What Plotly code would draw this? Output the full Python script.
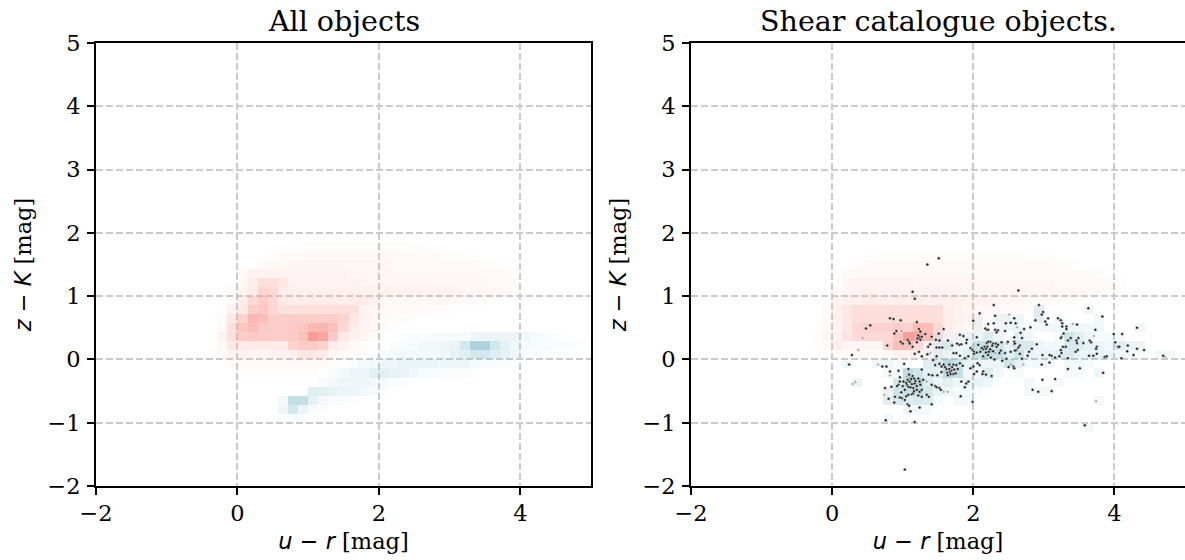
import numpy as np
import plotly.graph_objects as go

# u-r / z-K colour-colour density, 49 x 49 bins of 1/7 mag
N_BINS = 49
BIN = 1 / 7

x_ticks = [-2, 0, 2, 4]
y_ticks = [-2, -1, 0, 1, 2, 3, 4, 5]

# row -> (first column, cell values)
red_all = {
    26: (19, [1, 2, 2, 2, 2, 2, 2, 2, 2, 2, 2, 2, 1, 1]),
    25: (17, [2, 3, 3, 4, 4, 4, 4, 4, 4, 4, 4, 4, 4, 4, 3, 3, 3, 2, 2, 2, 1]),
    24: (16, [3, 5, 5, 6, 6, 6, 6, 6, 6, 6, 6, 6, 6, 5, 5, 5, 5, 5, 4, 4, 4, 3, 2, 2, 1]),
    23: (14, [4, 8, 8, 9, 9, 8, 8, 8, 8, 8, 8, 7, 7, 7, 7, 6, 6, 6, 6, 6, 5, 5, 5, 5, 4, 4, 3, 2]),
    22: (14, [5, 12, 22, 22, 16, 8, 8, 8, 8, 8, 8, 8, 7, 7, 7, 7, 7, 7, 7, 6, 6, 6, 6, 6, 6, 5, 5, 4]),
    21: (13, [3, 8, 12, 28, 25, 12, 10, 10, 10, 10, 10, 10, 10, 9, 9, 9, 8, 8, 8, 8, 8, 8, 8, 7, 7, 6, 6, 5, 4, 2]),
    20: (13, [5, 12, 25, 35, 25, 14, 13, 13, 13, 13, 12, 12, 12, 14, 10, 7, 5, 5, 5, 5, 6, 6, 5, 4, 3, 2]),
    19: (12, [2, 8, 15, 35, 40, 28, 20, 20, 22, 22, 22, 22, 22, 20, 8, 6, 5, 4, 4, 3, 3, 2, 2, 1]),
    18: (12, [4, 15, 30, 65, 55, 33, 33, 33, 33, 35, 35, 35, 30, 15, 8, 6, 4, 2, 2, 1]),
    17: (12, [5, 20, 45, 55, 38, 35, 35, 38, 42, 60, 65, 50, 25, 12, 8, 6, 3, 1]),
    16: (12, [8, 22, 35, 38, 33, 33, 33, 38, 50, 100, 85, 38, 14, 10, 6, 3, 1]),
    15: (12, [5, 15, 14, 14, 14, 14, 14, 30, 35, 35, 30, 13, 8, 5, 2]),
    14: (12, [3, 8, 8, 7, 7, 8, 8, 10, 16, 16, 14, 6, 3, 2]),
    13: (13, [4, 4, 3, 3, 4, 4, 5, 5, 5, 4, 2]),
    12: (14, [2, 2, 2, 2, 2, 2, 2, 2]),
}

blue_all = {
    16: (30, [2, 3, 3, 4, 4, 5, 5, 9, 10, 10, 10, 10, 8, 5, 3, 2]),
    15: (29, [3, 4, 5, 7, 7, 8, 10, 22, 50, 50, 22, 13, 7, 5, 4, 4, 3, 3, 2, 1]),
    14: (27, [3, 4, 5, 6, 6, 6, 6, 8, 12, 15, 22, 22, 17, 13, 8, 4, 3, 2, 2, 1, 1]),
    13: (25, [3, 5, 6, 8, 9, 10, 10, 10, 10, 9, 8, 8, 5, 3, 3, 2, 2]),
    12: (23, [4, 6, 8, 9, 14, 14, 12, 10, 6, 4, 3, 2, 2, 2, 1]),
    11: (22, [4, 6, 8, 8, 8, 7, 5, 3, 2]),
    10: (21, [15, 15, 12, 10, 10, 6, 4, 2]),
    9: (18, [6, 30, 30, 13, 6, 4, 3, 2]),
    8: (18, [8, 22, 10, 4, 2]),
    7: (18, [2, 3, 2]),
}

red_shear = {
    25: (17, [1, 2, 2, 2, 2, 2, 2, 2, 2, 2, 2, 2, 2, 2, 2, 2, 1, 1, 1]),
    24: (16, [2, 4, 4, 4, 4, 4, 4, 4, 4, 4, 4, 3, 3, 3, 3, 3, 3, 3, 3, 3, 2, 2, 1]),
    23: (15, [3, 5, 5, 5, 5, 5, 5, 5, 5, 5, 5, 5, 5, 4, 4, 4, 4, 4, 4, 4, 4, 3, 3, 3, 3, 2, 1]),
    22: (15, [6, 8, 8, 8, 8, 8, 8, 7, 7, 7, 7, 7, 7, 7, 6, 6, 6, 6, 6, 6, 6, 5, 5, 5, 5, 4, 3, 2]),
    21: (14, [4, 6, 8, 10, 8, 8, 8, 8, 8, 8, 8, 8, 8, 7, 7, 7, 7, 7, 7, 7, 7, 6, 6, 6, 6, 5, 5, 3]),
    20: (14, [8, 10, 10, 13, 13, 10, 12, 10, 12, 10, 10, 10, 9, 8, 8, 8, 7, 7, 6, 5, 4, 4, 3, 3, 2, 2]),
    19: (13, [4, 10, 15, 22, 22, 22, 22, 22, 22, 22, 22, 22, 12, 9, 7, 6, 5, 4, 3, 3, 2, 2, 1]),
    18: (13, [4, 10, 15, 22, 22, 22, 22, 22, 22, 22, 22, 22, 12, 10, 8, 5, 4, 2, 1]),
    17: (13, [4, 8, 15, 25, 30, 30, 30, 35, 30, 60, 55, 25, 12, 7, 5, 3, 1]),
    16: (12, [2, 6, 8, 18, 25, 25, 25, 25, 45, 95, 90, 60, 18, 8, 4, 2]),
    15: (12, [2, 4, 12, 7, 7, 7, 7, 28, 55, 55, 25, 10, 4, 2]),
    14: (14, [3, 3, 3, 3, 3, 5, 8, 8, 8, 6, 5, 2]),
}

blue_shear = {
    19: (34, [15, 0, 0, 0, 0, 8]),
    18: (28, [8, 0, 10, 8, 8, 0, 15, 0, 7, 0, 0, 0, 7]),
    17: (28, [8, 0, 8, 8, 8, 4, 6, 8, 8, 10, 8, 6, 7, 0, 0, 0, 8]),
    16: (24, [12, 5, 10, 10, 10, 18, 8, 0, 15, 7, 0, 0, 5, 25, 15, 8, 4, 5, 5]),
    15: (24, [15, 20, 8, 10, 30, 30, 25, 12, 20, 20, 10, 6, 6, 20, 18, 12, 10, 6, 15, 10, 10]),
    14: (23, [5, 12, 10, 8, 15, 25, 40, 30, 15, 25, 10, 8, 10, 15, 18, 10, 10, 12, 10, 6, 6, 4, 0, 6, 6]),
    13: (15, [8, 0, 0, 8, 8, 4, 0, 0, 15, 20, 40, 25, 12, 10, 8, 10, 25, 12, 6, 6, 8, 0, 7, 7, 5]),
    12: (19, [6, 6, 35, 25, 14, 14, 40, 30, 6, 6, 18, 6, 0, 5, 0, 0, 0, 0, 6, 6, 0, 8]),
    11: (16, [10, 0, 0, 0, 20, 35, 45, 18, 10, 15, 8, 12, 12, 8, 0, 0, 0, 6, 0, 0, 6]),
    10: (19, [10, 25, 28, 30, 22, 12, 8, 4, 6, 4, 0, 0, 0, 0, 6, 6, 6]),
    9: (19, [15, 22, 15, 20, 18, 5, 0, 6, 6, 0, 0, 0, 0, 0, 0, 0, 0, 0, 0, 0, 0, 6]),
    8: (21, [10, 6, 5]),
    7: (19, [7]),
    6: (39, [6]),
}

# shear catalogue objects, dark markers
shear_u_r = [
    1.51, 1.35, 1.14, 1.17, 2.29, 2.09, 2.00, 2.31, 0.82, 0.87, 0.97, 1.20, 0.54, 0.48, 2.21, 2.29, 1.58, 0.91, 0.88,
    1.23, 1.25, 1.24, 1.21, 1.25, 1.32, 1.41, 1.51, 1.47, 1.52, 1.07, 1.09, 0.97, 1.00, 0.78, 1.14, 1.39, 1.36, 1.64,
    1.23, 1.17, 1.02, 0.28, 0.24, 0.71, 0.77, 0.82, 0.94, 0.75, 0.84, 0.80, 0.88, 0.76, 1.17, 1.99, 1.82, 1.11, 1.24,
    1.41, 1.07, 1.09, 1.03, 1.05, 1.08, 1.13, 0.99, 0.96, 0.89, 1.20, 1.24, 1.27, 1.34, 1.37, 1.27, 1.22, 1.15, 0.96,
    1.08, 1.09, 1.14, 1.16, 1.22, 1.27, 1.01, 1.07, 1.10, 1.13, 1.17, 1.24, 0.96, 0.94, 0.92, 1.06, 1.08, 1.15, 1.25,
    1.29, 1.37, 1.42, 1.49, 1.41, 1.46, 1.48, 1.52, 1.54, 1.48, 1.43, 1.46, 1.52, 1.55, 1.58, 1.66, 1.72, 1.76, 1.81,
    1.62, 1.66, 1.69, 1.73, 1.63, 1.67, 1.68, 1.72, 1.83, 1.90, 1.93, 1.88, 1.96, 2.00, 1.48, 1.52, 1.56, 1.35, 1.27,
    1.72, 1.76, 1.81, 1.88, 1.93, 1.80, 1.83, 1.90, 1.70, 1.77, 1.81, 1.86, 1.91, 1.96, 1.99, 2.01, 2.05, 2.01, 2.07,
    2.14, 2.16, 2.19, 2.24, 2.21, 2.18, 2.21, 2.14, 2.09, 2.06, 2.14, 2.13, 2.18, 2.26, 2.05, 2.01, 2.19, 2.21, 2.31,
    2.17, 2.05, 2.24, 2.33, 2.64, 2.93, 3.63, 3.83, 2.58, 2.99, 2.97, 2.88, 3.06, 3.20, 3.24, 3.26, 3.26, 3.32, 3.32,
    3.47, 3.02, 3.04, 2.46, 2.53, 2.60, 2.72, 2.81, 2.35, 2.33, 2.45, 2.67, 2.58, 2.69, 3.28, 3.25, 3.24, 3.38, 3.49,
    3.46, 3.34, 3.47, 3.56, 3.65, 3.67, 3.73, 3.99, 4.11, 4.01, 4.05, 4.07, 4.19, 4.32, 4.32, 4.42, 4.18, 4.27, 3.75,
    3.74, 3.75, 3.64, 3.70, 3.86, 3.89, 4.10, 4.69, 3.48, 3.45, 3.24, 3.27, 3.31, 3.25, 3.22, 3.16, 3.11, 3.08, 2.98,
    2.90, 2.83, 2.79, 2.77, 2.69, 2.66, 2.53, 2.45, 2.39, 2.37, 2.28, 2.32, 2.35, 2.40, 2.49, 2.58, 2.59, 2.66, 2.64,
    2.61, 2.59, 2.47, 2.41, 2.50, 2.57, 2.58, 2.97, 3.08, 3.34, 3.34, 3.51, 3.84, 2.98, 3.16, 2.84, 2.92, 3.11, 3.58,
    1.03, 2.20, 2.24, 2.27, 2.22, 2.28, 2.25, 2.30, 2.12, 2.10, 2.18, 1.60, 1.70, 1.64, 1.75, 1.78, 1.85, 1.55, 1.12,
    1.18, 1.05, 1.20, 1.11, 1.00, 1.03, 0.98, 1.16, 1.22, 1.27, 1.20, 1.10,
]
shear_z_k = [
    1.60, 1.50, 1.07, 0.96, 0.86, 0.73, 0.61, 0.69, 0.65, 0.64, 0.62, 0.59, 0.54, 0.49, 0.56, 0.57, 0.48, 0.45, 0.41,
    0.48, 0.44, 0.35, 0.33, 0.31, 0.40, 0.36, 0.41, 0.31, 0.30, 0.31, 0.28, 0.28, 0.25, 0.22, 0.20, 0.24, 0.20, 0.30,
    0.12, 0.09, -0.07, 0.07, -0.08, -0.11, -0.11, -0.19, -0.18, -0.45, -0.43, -0.62, -0.68, -0.96, -0.99, -0.67, -0.58, -0.82, -0.76,
    -0.71, -0.71, -0.73, -0.64, -0.58, -0.56, -0.55, -0.61, -0.60, -0.59, -0.48, -0.51, -0.48, -0.56, -0.59, -0.59, -0.57, -0.53, -0.28,
    -0.15, -0.24, -0.26, -0.30, -0.30, -0.16, -0.35, -0.32, -0.35, -0.39, -0.38, -0.35, -0.35, -0.40, -0.42, -0.40, -0.43, -0.45, -0.40,
    -0.32, -0.24, -0.25, -0.25, -0.40, -0.42, -0.44, -0.45, -0.48, 0.05, -0.01, -0.09, -0.07, -0.11, -0.08, -0.08, -0.08, -0.09, -0.06,
    -0.15, -0.15, -0.18, -0.16, -0.21, -0.20, -0.23, -0.23, -0.35, -0.38, -0.35, -0.44, -0.14, -0.11, 0.19, 0.19, 0.19, 0.08, 0.05,
    0.10, 0.10, 0.06, 0.02, 0.05, 0.23, 0.24, 0.26, 0.22, 0.25, 0.39, 0.37, 0.31, 0.18, 0.15, 0.12, 0.11, 0.09, 0.23,
    0.16, 0.20, 0.26, 0.28, 0.28, 0.11, 0.07, 0.05, -0.09, -0.06, -0.19, -0.23, -0.24, -0.26, -0.19, -0.23, 0.47, 0.47, 0.47,
    0.49, 0.35, 0.15, 0.20, 1.09, 0.86, 0.81, 0.68, 0.65, 0.75, 0.71, 0.62, 0.65, 0.65, 0.62, 0.57, 0.52, 0.52, 0.48,
    0.55, 0.60, 0.55, 0.57, 0.58, 0.57, 0.48, 0.51, 0.46, 0.43, 0.45, 0.42, 0.35, 0.34, 0.41, 0.36, 0.34, 0.34, 0.34,
    0.30, 0.30, 0.26, 0.26, 0.30, 0.27, 0.47, 0.40, 0.40, 0.27, 0.20, 0.20, 0.22, 0.50, 0.17, 0.15, 0.13, 0.07, 0.20,
    0.17, 0.09, 0.06, 0.06, 0.04, 0.05, 0.02, 0.06, 0.15, 0.12, 0.15, 0.20, 0.20, 0.10, 0.05, 0.03, 0.06, 0.07, 0.07,
    0.24, 0.17, 0.12, 0.06, 0.01, 0.09, 0.12, 0.10, 0.14, 0.10, 0.25, 0.25, 0.23, 0.27, 0.28, 0.28, 0.25, 0.22, 0.19,
    0.15, 0.14, 0.01, -0.02, -0.12, -0.11, -0.14, -0.08, -0.05, 0.02, -0.15, -0.14, -0.21, -0.32, -0.31, -0.48, -0.51, -0.50, -1.04,
    -1.74, 0.20, 0.16, 0.22, 0.12, 0.13, 0.03, 0.00, 0.18, 0.12, 0.17, -0.12, -0.12, -0.25, -0.22, -0.15, -0.10, -0.20, -0.31,
    -0.34, -0.37, -0.42, -0.44, -0.42, -0.48, -0.52, -0.50, 0.38, 0.36, 0.27, 0.25,
]

# fainter, hollow looking markers
faint_u_r = [0.98, 0.43, 0.37, 0.65, 0.82, 0.33, 0.29, 0.74, 1.34, 1.64, 1.58, 1.06, 1.10, 1.39, 2.31, 2.51, 3.41, 2.62, 3.71, 4.72, 2.48, 2.57, 2.53, 2.71, 3.74]
faint_z_k = [0.45, 0.34, 0.15, -0.08, -0.25, -0.36, -0.39, -0.56, -0.35, -0.51, -0.51, -0.27, -0.28, 0.10, 0.10, 0.71, 0.56, 0.51, 0.37, 0.04, 0.25, 0.23, -0.08, -0.08, -0.66]

FONT = "DejaVu Serif"
GRID = "#cbcbcb"
RED_SCALE = [[0, "rgba(248,156,148,0)"], [0.33, "rgba(248,156,148,0.5)"], [1, "rgba(248,156,148,1)"]]
BLUE_SCALE = [[0, "rgba(120,185,200,0)"], [0.3, "rgba(120,185,200,0.45)"], [1, "rgba(120,185,200,1)"]]


def to_grid(rows):
    grid = np.full((N_BINS, N_BINS), np.nan)
    for row, (start, values) in rows.items():
        for i, v in enumerate(values):
            if v > 0:
                grid[row, start + i] = v
    return grid


def density(rows, scale, xaxis, yaxis):
    return go.Heatmap(
        z=to_grid(rows),
        x0=-2 + BIN / 2,
        dx=BIN,
        y0=-2 + BIN / 2,
        dy=BIN,
        zmin=0,
        zmax=100,
        colorscale=scale,
        showscale=False,
        hoverongaps=False,
        xaxis=xaxis,
        yaxis=yaxis,
    )


def axis_label(math):
    # matplotlib mathtext: sans oblique symbols followed by the serif unit
    return f'<span style="font-family:DejaVu Sans;font-style:italic">{math}</span> [mag]'


fig = go.Figure()
fig.add_trace(density(red_all, RED_SCALE, "x", "y"))
fig.add_trace(density(blue_all, BLUE_SCALE, "x", "y"))
fig.add_trace(density(red_shear, RED_SCALE, "x2", "y2"))
fig.add_trace(density(blue_shear, BLUE_SCALE, "x2", "y2"))

fig.add_trace(go.Scatter(
    x=faint_u_r, y=faint_z_k, mode="markers", xaxis="x2", yaxis="y2",
    marker=dict(size=3, color="rgba(120,120,120,0.6)", line=dict(width=0.6, color="rgba(255,255,255,0.8)")),
))
fig.add_trace(go.Scatter(
    x=shear_u_r, y=shear_z_k, mode="markers", xaxis="x2", yaxis="y2",
    marker=dict(size=3, color="#222222", line=dict(width=0.6, color="rgba(255,255,255,0.8)")),
))

axis_style = dict(
    showline=True,
    linecolor="black",
    linewidth=1.7,
    ticks="outside",
    ticklen=7,
    tickwidth=1.7,
    tickcolor="black",
    tickfont=dict(family=FONT, size=22.5, color="black"),
    showgrid=True,
    gridcolor=GRID,
    gridwidth=1.5,
    griddash="7px,3px",
    zeroline=False,
    automargin=False,
    mirror=True,
)
x_title = dict(text=axis_label("u − r"), font=dict(family=FONT, size=22.5, color="black"), standoff=8)
y_title = dict(text=axis_label("z − K"), font=dict(family=FONT, size=22.5, color="black"), standoff=10)

fig.update_layout(
    width=1185,
    height=560,
    margin=dict(l=0, r=0, t=43, b=74),
    paper_bgcolor="white",
    plot_bgcolor="white",
    showlegend=False,
    xaxis=dict(domain=[96 / 1185, 591 / 1185], range=[-2, 5], tickvals=x_ticks, ticklabelstandoff=-1, title=x_title, **axis_style),
    yaxis=dict(domain=[0, 1], range=[-2, 5], tickvals=y_ticks, ticklabelstandoff=2, title=y_title, **axis_style),
    xaxis2=dict(domain=[691 / 1185, 1], range=[-2, 5], tickvals=x_ticks, anchor="y2", ticklabelstandoff=-1, title=x_title, **axis_style),
    yaxis2=dict(domain=[0, 1], range=[-2, 5], tickvals=y_ticks, anchor="x2", ticklabelstandoff=2, title=y_title, **axis_style),
    annotations=[
        dict(text="All objects", x=343.5 / 1185, y=1, xref="paper", yref="paper", xanchor="center", yanchor="bottom",
             yshift=3, showarrow=False, font=dict(family=FONT, size=28.5, color="black")),
        dict(text="Shear catalogue objects.", x=938 / 1185, y=1, xref="paper", yref="paper", xanchor="center", yanchor="bottom",
             yshift=3, showarrow=False, font=dict(family=FONT, size=28.5, color="black")),
    ],
)

fig.write_html("out.html", config=dict(displayModeBar=False), post_script="document.body.style.margin = '0';")
